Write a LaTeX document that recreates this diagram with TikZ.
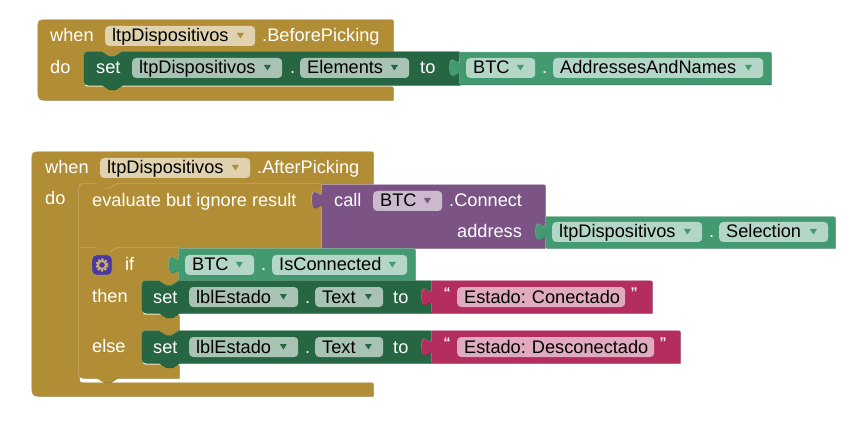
\documentclass[tikz,border=0pt]{standalone}
\usepackage{fontspec}
\setmainfont{Liberation Sans}
\frenchspacing
\usepackage{xcolor}
\definecolor{ctrl}{HTML}{B18E35}
\definecolor{ctrllight}{HTML}{C8AD6C}
\definecolor{ctrldark}{HTML}{8D722A}
\definecolor{ctrlfield}{HTML}{E0D2AE}
\definecolor{setter}{HTML}{266643}
\definecolor{setterlight}{HTML}{5C8C72}
\definecolor{setterdark}{HTML}{1E5236}
\definecolor{setterfield}{HTML}{A8C2B4}
\definecolor{getter}{HTML}{439970}
\definecolor{getterlight}{HTML}{76B596}
\definecolor{getterdark}{HTML}{367A5A}
\definecolor{getterfield}{HTML}{B4D6C6}
\definecolor{proc}{HTML}{7C5385}
\definecolor{proclight}{HTML}{BDA8C2}
\definecolor{procdark}{HTML}{63426A}
\definecolor{procfield}{HTML}{CBBACE}
\definecolor{txtblock}{HTML}{B32D5E}
\definecolor{txtblocklight}{HTML}{CC6C8F}
\definecolor{txtblockdark}{HTML}{8F244B}
\definecolor{txtblockfield}{HTML}{E1ABBF}
\definecolor{gearblue}{HTML}{4A3AA0}
\usetikzlibrary{positioning}
\tikzset{
  shaped/.style={
    preaction={fill=#1light,transform canvas={xshift=-.6pt,yshift=.6pt}},
    preaction={fill=#1dark,transform canvas={xshift=.6pt,yshift=-.6pt}},
    fill=#1},
  lbl/.style={anchor=west,inner sep=0pt,text=white,text height=16pt,text depth=4pt},
  field/.style={anchor=west,fill=#1field,rounded corners=4pt,inner xsep=7pt,inner ysep=0pt,
    text=black,text height=16pt,text depth=4pt},
  quotemark/.style={anchor=center,inner sep=0pt,text=white,font=\fontsize{14}{14}\selectfont\bfseries},
  gearbox/.style={fill=gearblue,draw=ctrllight,rounded corners=4pt,minimum size=20pt,inner sep=0pt}
}
\newcommand{\notchdown}[2]{-- (#1,#2) -- (#1+7,#2+4.5) -- (#1+13,#2+4.5) -- (#1+20,#2)}
\newcommand{\notchback}[2]{-- (#1+20,#2) -- (#1+13,#2+4.5) -- (#1+7,#2+4.5) -- (#1,#2)}
\newcommand{\tabup}[2]{-- (#1,#2+18) .. controls (#1,#2+6) and (#1-10,#2+27.6) .. (#1-10,#2+9) .. controls (#1-10,#2-9.6) and (#1,#2+12) .. (#1,#2)}
\begin{document}
\begin{tikzpicture}[x=1pt,y=-1pt,font=\fontsize{18.2}{20}\selectfont]
  \useasboundingbox (0,0) rectangle (842,427);
  \fill[white] (0,0) rectangle (842,427);
  % first event
  \path[shaped=ctrl] (48,20) -- (393,20) -- (393,52) \notchback{102}{52} -- (92,52) .. controls (84,52) .. (84,60) -- (84,79) .. controls (84,87) .. (92,87) -- (393,87) -- (393,100) -- (48,100) .. controls (38,100) .. (38,90) -- (38,30) .. controls (38,20) .. (48,20) -- cycle;
  \path[shaped=setter] (92,52) \notchdown{102}{52} -- (460,52) -- (460,85) \notchback{102}{85} -- (92,85) .. controls (84,85) .. (84,77) -- (84,60) .. controls (84,52) .. (92,52) -- cycle;
  \path[shaped=getter] (460,52.5) -- (771,52.5) -- (771,84.5) -- (460,84.5) \tabup{460}{59} -- cycle;
  \node[lbl] (whenbefore) at (50,36) {when};
  \node[field=ctrl,text width=136pt] (pickerbefore) at (105,36) {ltpDispositivos};
  \node[lbl] (beforepicking) at (262,36) {.BeforePicking};
  \node[lbl] (dobefore) at (50,68) {do};
  \node[lbl] (setelements) at (96,68) {set};
  \node[field=setter,text width=136pt] (pickerset) at (132,68) {ltpDispositivos};
  \node[lbl] (dotelements) at (290,68) {.};
  \node[field=setter,text width=95pt] (elements) at (300,68) {Elements};
  \node[lbl] (toelements) at (420,68) {to};
  \node[field=getter,text width=55pt] (btcnames) at (466,68) {BTC};
  \node[lbl] (dotnames) at (542,68) {.};
  \node[field=getter,text width=196pt] (addresses) at (553,68) {AddressesAndNames};
  % second event
  \path[shaped=ctrl] (42,152) -- (373,152) -- (373,184) \notchback{97}{184} -- (87,184) .. controls (79,184) .. (79,192) -- (79,375) .. controls (79,383) .. (87,383) -- (373,383) -- (373,396) -- (42,396) .. controls (32,396) .. (32,386) -- (32,162) .. controls (32,152) .. (42,152) -- cycle;
  \path[shaped=ctrl] (87,184) \notchdown{97}{184} -- (322,184) -- (322,248) \notchback{97}{248} -- (79,248) -- (79,192) .. controls (79,184) .. (87,184) -- cycle;
  \path[shaped=proc] (322,185) -- (545,185) -- (545,248) -- (322,248) \tabup{322}{191} -- cycle;
  \path[shaped=getter] (546,217) -- (835,217) -- (835,248) -- (546,248) \tabup{546}{223} -- cycle;
  \path[shaped=ctrl] (79,248) \notchdown{97}{248} -- (179,248) -- (179,281) \notchback{159}{281} -- (150,281) .. controls (142,281) .. (142,289) -- (142,307) .. controls (142,315) .. (150,315) -- (179,315) -- (179,331) \notchback{159}{331} -- (150,331) .. controls (142,331) .. (142,339) -- (142,357) .. controls (142,365) .. (150,365) -- (179,365) -- (179,378) \notchback{97}{378} -- (87,378) .. controls (79,378) .. (79,370) -- cycle;
  \path[shaped=getter] (179,249) -- (415,249) -- (415,281) -- (179,281) \tabup{179}{256} -- cycle;
  \path[shaped=setter] (150,281) \notchdown{159}{281} -- (432,281) -- (432,313) \notchback{159}{313} -- (150,313) .. controls (142,313) .. (142,305) -- (142,289) .. controls (142,281) .. (150,281) -- cycle;
  \path[shaped=txtblock] (432,281) -- (652,281) -- (652,313) -- (432,313) \tabup{432}{288} -- cycle;
  \path[shaped=setter] (150,331) \notchdown{159}{331} -- (432,331) -- (432,363) \notchback{159}{363} -- (150,363) .. controls (142,363) .. (142,355) -- (142,339) .. controls (142,331) .. (150,331) -- cycle;
  \path[shaped=txtblock] (432,331) -- (680,331) -- (680,363) -- (432,363) \tabup{432}{338} -- cycle;
  \node[lbl] (whenafter) at (45,168) {when};
  \node[field=ctrl,text width=136pt] (pickerafter) at (100,168) {ltpDispositivos};
  \node[lbl] (afterpicking) at (257,168) {.AfterPicking};
  \node[lbl] (doafter) at (45,199) {do};
  \node[lbl] (evaluate) at (92,201) {evaluate but ignore result};
  \node[lbl] (callconnect) at (334,201) {call};
  \node[field=proc,text width=55pt] (btcconnect) at (373,201) {BTC};
  \node[lbl] (connect) at (449,201) {.Connect};
  \node[lbl] (address) at (457,232) {address};
  \node[field=getter,text width=136pt] (pickerselect) at (552,232) {ltpDispositivos};
  \node[lbl] (dotselect) at (709,232) {.};
  \node[field=getter,text width=95pt] (selection) at (719,232) {Selection};
  \node[gearbox] (mutator) at (102,265) {};
  \draw[ctrllight,line width=2.4pt,dash pattern=on 2pt off 1.4pt] (mutator.center) circle (5.4pt);
  \draw[ctrllight,line width=2pt] (mutator.center) circle (4pt);
  \node[lbl] (ifcheck) at (125,264) {if};
  \node[field=getter,text width=55pt] (btccheck) at (185,265) {BTC};
  \node[lbl] (dotcheck) at (261,265) {.};
  \node[field=getter,text width=121pt] (isconnected) at (272,265) {IsConnected};
  \node[lbl] (thenbranch) at (92,296) {then};
  \node[lbl] (elsebranch) at (92,346) {else};
  \node[lbl] (setthen) at (153,297) {set};
  \node[field=setter,text width=95pt] (estadothen) at (189,297) {lblEstado};
  \node[lbl] (dotthen) at (305,297) {.};
  \node[field=setter,text width=54pt] (textthen) at (315,297) {Text};
  \node[lbl] (tothen) at (393,297) {to};
  \node[quotemark] (openthen) at (447,293) {“};
  \node[field=txtblock,text width=154pt] (conectado) at (457,297) {\mbox{Estado: Conectado}};
  \node[quotemark] (closethen) at (634,293) {”};
  \node[lbl] (setelse) at (153,347) {set};
  \node[field=setter,text width=95pt] (estadoelse) at (189,347) {lblEstado};
  \node[lbl] (dotelse) at (305,347) {.};
  \node[field=setter,text width=54pt] (textelse) at (315,347) {Text};
  \node[lbl] (toelse) at (393,347) {to};
  \node[quotemark] (openelse) at (447,343) {“};
  \node[field=txtblock,text width=183pt] (desconectado) at (457,347) {\mbox{Estado: Desconectado}};
  \node[quotemark] (closeelse) at (663,343) {”};
  \foreach \fname/\fcol in {pickerbefore/ctrl,pickerafter/ctrl,pickerset/setter,elements/setter,estadothen/setter,textthen/setter,estadoelse/setter,textelse/setter,btcnames/getter,addresses/getter,pickerselect/getter,selection/getter,btccheck/getter,isconnected/getter,btcconnect/proc}
    \fill[\fcol] (\fname.east) ++(-18.5,-3) -- ++(7,0) -- ++(-3.5,5.5) -- cycle;
\end{tikzpicture}
\end{document}
